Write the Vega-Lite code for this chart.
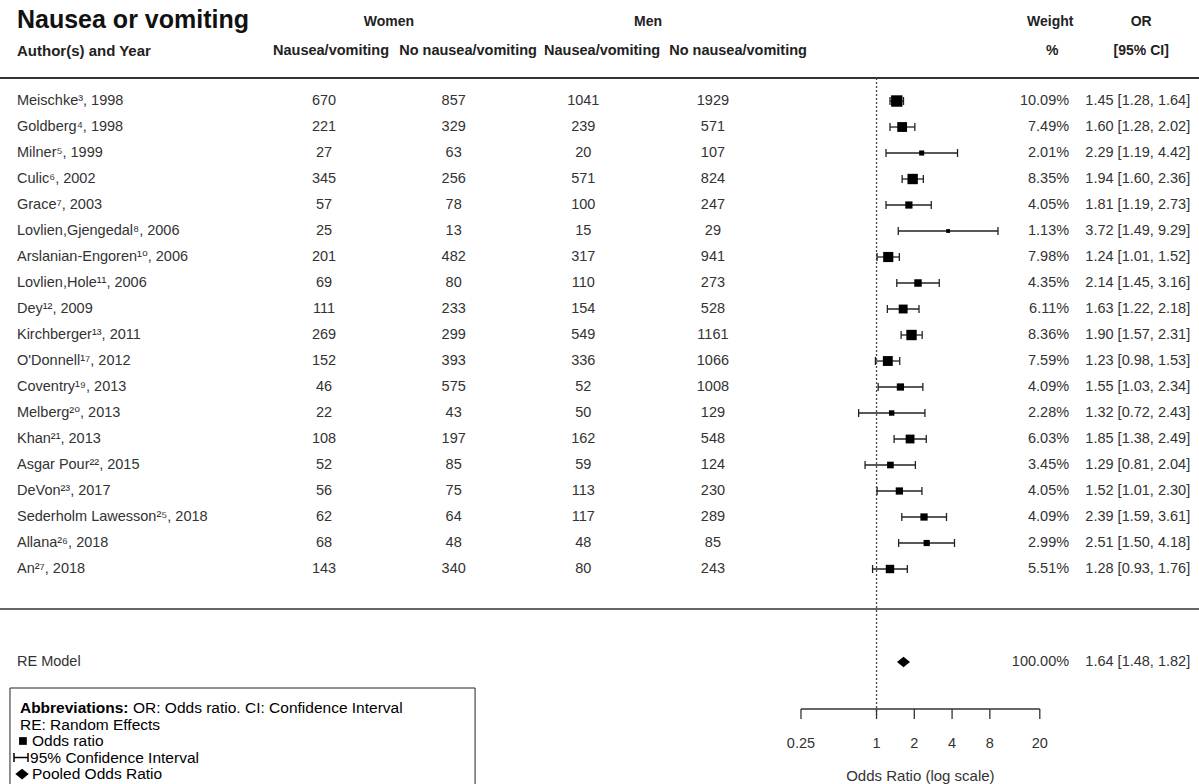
{
  "$schema": "https://vega.github.io/schema/vega-lite/v6.json",
  "width": 1199,
  "height": 784,
  "autosize": {"type": "none"},
  "padding": 0,
  "background": "white",
  "config": {"view": {"stroke": null}, "axis": {"disable": true}, "legend": {"disable": true}},
  "datasets": {
    "one": [{}],
    "studies": [
      {"row": 1, "author": "Meischke³, 1998", "a": 670, "b": 857, "c": 1041, "d": 1929, "w": 10.09, "wt": "10.09%", "or": 1.45, "lo": 1.28, "hi": 1.64, "ci": "1.45 [1.28, 1.64]"},
      {"row": 2, "author": "Goldberg⁴, 1998", "a": 221, "b": 329, "c": 239, "d": 571, "w": 7.49, "wt": "7.49%", "or": 1.60, "lo": 1.28, "hi": 2.02, "ci": "1.60 [1.28, 2.02]"},
      {"row": 3, "author": "Milner⁵, 1999", "a": 27, "b": 63, "c": 20, "d": 107, "w": 2.01, "wt": "2.01%", "or": 2.29, "lo": 1.19, "hi": 4.42, "ci": "2.29 [1.19, 4.42]"},
      {"row": 4, "author": "Culic⁶, 2002", "a": 345, "b": 256, "c": 571, "d": 824, "w": 8.35, "wt": "8.35%", "or": 1.94, "lo": 1.60, "hi": 2.36, "ci": "1.94 [1.60, 2.36]"},
      {"row": 5, "author": "Grace⁷, 2003", "a": 57, "b": 78, "c": 100, "d": 247, "w": 4.05, "wt": "4.05%", "or": 1.81, "lo": 1.19, "hi": 2.73, "ci": "1.81 [1.19, 2.73]"},
      {"row": 6, "author": "Lovlien,Gjengedal⁸, 2006", "a": 25, "b": 13, "c": 15, "d": 29, "w": 1.13, "wt": "1.13%", "or": 3.72, "lo": 1.49, "hi": 9.29, "ci": "3.72 [1.49, 9.29]"},
      {"row": 7, "author": "Arslanian-Engoren¹⁰, 2006", "a": 201, "b": 482, "c": 317, "d": 941, "w": 7.98, "wt": "7.98%", "or": 1.24, "lo": 1.01, "hi": 1.52, "ci": "1.24 [1.01, 1.52]"},
      {"row": 8, "author": "Lovlien,Hole¹¹, 2006", "a": 69, "b": 80, "c": 110, "d": 273, "w": 4.35, "wt": "4.35%", "or": 2.14, "lo": 1.45, "hi": 3.16, "ci": "2.14 [1.45, 3.16]"},
      {"row": 9, "author": "Dey¹², 2009", "a": 111, "b": 233, "c": 154, "d": 528, "w": 6.11, "wt": "6.11%", "or": 1.63, "lo": 1.22, "hi": 2.18, "ci": "1.63 [1.22, 2.18]"},
      {"row": 10, "author": "Kirchberger¹³, 2011", "a": 269, "b": 299, "c": 549, "d": 1161, "w": 8.36, "wt": "8.36%", "or": 1.90, "lo": 1.57, "hi": 2.31, "ci": "1.90 [1.57, 2.31]"},
      {"row": 11, "author": "O'Donnell¹⁷, 2012", "a": 152, "b": 393, "c": 336, "d": 1066, "w": 7.59, "wt": "7.59%", "or": 1.23, "lo": 0.98, "hi": 1.53, "ci": "1.23 [0.98, 1.53]"},
      {"row": 12, "author": "Coventry¹⁹, 2013", "a": 46, "b": 575, "c": 52, "d": 1008, "w": 4.09, "wt": "4.09%", "or": 1.55, "lo": 1.03, "hi": 2.34, "ci": "1.55 [1.03, 2.34]"},
      {"row": 13, "author": "Melberg²⁰, 2013", "a": 22, "b": 43, "c": 50, "d": 129, "w": 2.28, "wt": "2.28%", "or": 1.32, "lo": 0.72, "hi": 2.43, "ci": "1.32 [0.72, 2.43]"},
      {"row": 14, "author": "Khan²¹, 2013", "a": 108, "b": 197, "c": 162, "d": 548, "w": 6.03, "wt": "6.03%", "or": 1.85, "lo": 1.38, "hi": 2.49, "ci": "1.85 [1.38, 2.49]"},
      {"row": 15, "author": "Asgar Pour²², 2015", "a": 52, "b": 85, "c": 59, "d": 124, "w": 3.45, "wt": "3.45%", "or": 1.29, "lo": 0.81, "hi": 2.04, "ci": "1.29 [0.81, 2.04]"},
      {"row": 16, "author": "DeVon²³, 2017", "a": 56, "b": 75, "c": 113, "d": 230, "w": 4.05, "wt": "4.05%", "or": 1.52, "lo": 1.01, "hi": 2.30, "ci": "1.52 [1.01, 2.30]"},
      {"row": 17, "author": "Sederholm Lawesson²⁵, 2018", "a": 62, "b": 64, "c": 117, "d": 289, "w": 4.09, "wt": "4.09%", "or": 2.39, "lo": 1.59, "hi": 3.61, "ci": "2.39 [1.59, 3.61]"},
      {"row": 18, "author": "Allana²⁶, 2018", "a": 68, "b": 48, "c": 48, "d": 85, "w": 2.99, "wt": "2.99%", "or": 2.51, "lo": 1.50, "hi": 4.18, "ci": "2.51 [1.50, 4.18]"},
      {"row": 19, "author": "An²⁷, 2018", "a": 143, "b": 340, "c": 80, "d": 243, "w": 5.51, "wt": "5.51%", "or": 1.28, "lo": 0.93, "hi": 1.76, "ci": "1.28 [0.93, 1.76]"}
    ],
    "pooled": [
      {"label": "RE Model", "wt": "100.00%", "or": 1.64, "lo": 1.48, "hi": 1.82, "ci": "1.64 [1.48, 1.82]"}
    ],
    "ticks": [
      {"v": 0.25, "label": "0.25"},
      {"v": 1, "label": "1"},
      {"v": 2, "label": "2"},
      {"v": 4, "label": "4"},
      {"v": 8, "label": "8"},
      {"v": 20, "label": "20"}
    ]
  },
  "data": {"name": "one"},
  "resolve": {"scale": {"x": "independent"}},
  "layer": [
    {
      "layer": [
        {"mark": {"type": "text", "text": "Nausea or vomiting", "align": "left", "baseline": "middle", "fontSize": 25, "fontWeight": "bold", "font": "Liberation Sans", "color": "#111"},
         "encoding": {"x": {"datum": -1.369, "type": "quantitative", "scale": {"domain": [-1.5, 7.75], "nice": false, "zero": false}}, "y": {"datum": -2.115, "type": "quantitative", "scale": {"domain": [-2.885, 27.269], "reverse": true, "nice": false, "zero": false}}}},
        {"mark": {"type": "text", "text": "Women", "align": "center", "baseline": "middle", "fontSize": 14, "fontWeight": "bold", "font": "Liberation Sans", "color": "#222"},
         "encoding": {"x": {"datum": 1.5, "type": "quantitative"}, "y": {"datum": -2.038, "type": "quantitative"}}},
        {"mark": {"type": "text", "text": "Men", "align": "center", "baseline": "middle", "fontSize": 14, "fontWeight": "bold", "font": "Liberation Sans", "color": "#222"},
         "encoding": {"x": {"datum": 3.5, "type": "quantitative"}, "y": {"datum": -2.038, "type": "quantitative"}}},
        {"mark": {"type": "text", "text": "Weight", "align": "center", "baseline": "middle", "fontSize": 14, "fontWeight": "bold", "font": "Liberation Sans", "color": "#222"},
         "encoding": {"x": {"datum": 6.602, "type": "quantitative"}, "y": {"datum": -2.038, "type": "quantitative"}}},
        {"mark": {"type": "text", "text": "OR", "align": "center", "baseline": "middle", "fontSize": 14, "fontWeight": "bold", "font": "Liberation Sans", "color": "#222"},
         "encoding": {"x": {"datum": 7.304, "type": "quantitative"}, "y": {"datum": -2.038, "type": "quantitative"}}},
        {"mark": {"type": "text", "text": "Author(s) and Year", "align": "left", "baseline": "middle", "fontSize": 15, "fontWeight": "bold", "font": "Liberation Sans", "color": "#222"},
         "encoding": {"x": {"datum": -1.369, "type": "quantitative"}, "y": {"datum": -0.923, "type": "quantitative"}}},
        {"mark": {"type": "text", "text": "Nausea/vomiting", "align": "center", "baseline": "middle", "fontSize": 14.5, "fontWeight": "bold", "font": "Liberation Sans", "color": "#222"},
         "encoding": {"x": {"datum": 1.054, "type": "quantitative"}, "y": {"datum": -0.923, "type": "quantitative"}}},
        {"mark": {"type": "text", "text": "No nausea/vomiting", "align": "center", "baseline": "middle", "fontSize": 14.5, "fontWeight": "bold", "font": "Liberation Sans", "color": "#222"},
         "encoding": {"x": {"datum": 2.111, "type": "quantitative"}, "y": {"datum": -0.923, "type": "quantitative"}}},
        {"mark": {"type": "text", "text": "Nausea/vomiting", "align": "center", "baseline": "middle", "fontSize": 14.5, "fontWeight": "bold", "font": "Liberation Sans", "color": "#222"},
         "encoding": {"x": {"datum": 3.145, "type": "quantitative"}, "y": {"datum": -0.923, "type": "quantitative"}}},
        {"mark": {"type": "text", "text": "No nausea/vomiting", "align": "center", "baseline": "middle", "fontSize": 14.5, "fontWeight": "bold", "font": "Liberation Sans", "color": "#222"},
         "encoding": {"x": {"datum": 4.194, "type": "quantitative"}, "y": {"datum": -0.923, "type": "quantitative"}}},
        {"mark": {"type": "text", "text": "%", "align": "center", "baseline": "middle", "fontSize": 14, "fontWeight": "bold", "font": "Liberation Sans", "color": "#222"},
         "encoding": {"x": {"datum": 6.617, "type": "quantitative"}, "y": {"datum": -0.923, "type": "quantitative"}}},
        {"mark": {"type": "text", "text": "[95% CI]", "align": "center", "baseline": "middle", "fontSize": 14, "fontWeight": "bold", "font": "Liberation Sans", "color": "#222"},
         "encoding": {"x": {"datum": 7.304, "type": "quantitative"}, "y": {"datum": -0.923, "type": "quantitative"}}},
        {"mark": {"type": "rule", "color": "#333", "strokeWidth": 2},
         "encoding": {"x": {"datum": -1.5, "type": "quantitative"}, "x2": {"datum": 7.75}, "y": {"datum": 0.115, "type": "quantitative"}}},
        {"mark": {"type": "rule", "color": "#333", "strokeWidth": 1.5},
         "encoding": {"x": {"datum": -1.5, "type": "quantitative"}, "x2": {"datum": 7.75}, "y": {"datum": 20.538, "type": "quantitative"}}},
        {"data": {"name": "studies"},
         "mark": {"type": "text", "align": "left", "baseline": "middle", "fontSize": 14.5, "font": "Liberation Sans, DejaVu Sans", "color": "#333"},
         "encoding": {"x": {"datum": -1.369, "type": "quantitative"}, "y": {"field": "row", "type": "quantitative"}, "text": {"field": "author", "type": "nominal"}}},
        {"data": {"name": "studies"},
         "mark": {"type": "text", "align": "center", "baseline": "middle", "fontSize": 14.5, "font": "Liberation Sans", "color": "#333"},
         "encoding": {"x": {"datum": 1, "type": "quantitative"}, "y": {"field": "row", "type": "quantitative"}, "text": {"field": "a", "type": "nominal"}}},
        {"data": {"name": "studies"},
         "mark": {"type": "text", "align": "center", "baseline": "middle", "fontSize": 14.5, "font": "Liberation Sans", "color": "#333"},
         "encoding": {"x": {"datum": 2, "type": "quantitative"}, "y": {"field": "row", "type": "quantitative"}, "text": {"field": "b", "type": "nominal"}}},
        {"data": {"name": "studies"},
         "mark": {"type": "text", "align": "center", "baseline": "middle", "fontSize": 14.5, "font": "Liberation Sans", "color": "#333"},
         "encoding": {"x": {"datum": 3, "type": "quantitative"}, "y": {"field": "row", "type": "quantitative"}, "text": {"field": "c", "type": "nominal"}}},
        {"data": {"name": "studies"},
         "mark": {"type": "text", "align": "center", "baseline": "middle", "fontSize": 14.5, "font": "Liberation Sans", "color": "#333"},
         "encoding": {"x": {"datum": 4, "type": "quantitative"}, "y": {"field": "row", "type": "quantitative"}, "text": {"field": "d", "type": "nominal"}}},
        {"data": {"name": "studies"},
         "mark": {"type": "text", "align": "right", "baseline": "middle", "fontSize": 14.5, "font": "Liberation Sans", "color": "#333"},
         "encoding": {"x": {"datum": 6.748, "type": "quantitative"}, "y": {"field": "row", "type": "quantitative"}, "text": {"field": "wt", "type": "nominal"}}},
        {"data": {"name": "studies"},
         "mark": {"type": "text", "align": "right", "baseline": "middle", "fontSize": 14.5, "font": "Liberation Sans", "color": "#333"},
         "encoding": {"x": {"datum": 7.682, "type": "quantitative"}, "y": {"field": "row", "type": "quantitative"}, "text": {"field": "ci", "type": "nominal"}}},
        {"data": {"name": "pooled"},
         "mark": {"type": "text", "align": "left", "baseline": "middle", "fontSize": 14.5, "font": "Liberation Sans", "color": "#333"},
         "encoding": {"x": {"datum": -1.369, "type": "quantitative"}, "y": {"datum": 22.577, "type": "quantitative"}, "text": {"field": "label", "type": "nominal"}}},
        {"data": {"name": "pooled"},
         "mark": {"type": "text", "align": "right", "baseline": "middle", "fontSize": 14.5, "font": "Liberation Sans", "color": "#333"},
         "encoding": {"x": {"datum": 6.748, "type": "quantitative"}, "y": {"datum": 22.577, "type": "quantitative"}, "text": {"field": "wt", "type": "nominal"}}},
        {"data": {"name": "pooled"},
         "mark": {"type": "text", "align": "right", "baseline": "middle", "fontSize": 14.5, "font": "Liberation Sans", "color": "#333"},
         "encoding": {"x": {"datum": 7.682, "type": "quantitative"}, "y": {"datum": 22.577, "type": "quantitative"}, "text": {"field": "ci", "type": "nominal"}}},
        {"mark": {"type": "rect", "fill": "white", "stroke": "#222", "strokeWidth": 1},
         "encoding": {"x": {"datum": -1.423, "type": "quantitative"}, "x2": {"datum": 2.165}, "y": {"datum": 23.577, "type": "quantitative"}, "y2": {"datum": 28}}},
        {"mark": {"type": "text", "text": "Abbreviations:", "align": "left", "baseline": "middle", "fontSize": 15.5, "fontWeight": "bold", "font": "Liberation Sans", "color": "#000"},
         "encoding": {"x": {"datum": -1.346, "type": "quantitative"}, "y": {"datum": 24.346, "type": "quantitative"}}},
        {"mark": {"type": "text", "text": "OR: Odds ratio. CI: Confidence Interval", "align": "left", "baseline": "middle", "fontSize": 15.5, "font": "Liberation Sans", "color": "#000"},
         "encoding": {"x": {"datum": -0.474, "type": "quantitative"}, "y": {"datum": 24.346, "type": "quantitative"}}},
        {"mark": {"type": "text", "text": "RE: Random Effects", "align": "left", "baseline": "middle", "fontSize": 15.5, "font": "Liberation Sans", "color": "#000"},
         "encoding": {"x": {"datum": -1.346, "type": "quantitative"}, "y": {"datum": 24.981, "type": "quantitative"}}},
        {"mark": {"type": "point", "shape": "square", "filled": true, "size": 60, "color": "#000", "opacity": 1},
         "encoding": {"x": {"datum": -1.323, "type": "quantitative"}, "y": {"datum": 25.615, "type": "quantitative"}}},
        {"mark": {"type": "text", "text": "Odds ratio", "align": "left", "baseline": "middle", "fontSize": 15.5, "font": "Liberation Sans", "color": "#000"},
         "encoding": {"x": {"datum": -1.253, "type": "quantitative"}, "y": {"datum": 25.615, "type": "quantitative"}}},
        {"mark": {"type": "rule", "color": "#000", "strokeWidth": 1.5},
         "encoding": {"x": {"datum": -1.392, "type": "quantitative"}, "x2": {"datum": -1.284}, "y": {"datum": 26.25, "type": "quantitative"}}},
        {"mark": {"type": "tick", "orient": "vertical", "color": "#000", "size": 9, "thickness": 1.5, "opacity": 1},
         "encoding": {"x": {"datum": -1.392, "type": "quantitative"}, "y": {"datum": 26.25, "type": "quantitative"}}},
        {"mark": {"type": "tick", "orient": "vertical", "color": "#000", "size": 9, "thickness": 1.5, "opacity": 1},
         "encoding": {"x": {"datum": -1.284, "type": "quantitative"}, "y": {"datum": 26.25, "type": "quantitative"}}},
        {"mark": {"type": "text", "text": "95% Confidence Interval", "align": "left", "baseline": "middle", "fontSize": 15.5, "font": "Liberation Sans", "color": "#000"},
         "encoding": {"x": {"datum": -1.268, "type": "quantitative"}, "y": {"datum": 26.25, "type": "quantitative"}}},
        {"mark": {"type": "point", "shape": "M-1,0L0,-0.8L1,0L0,0.8Z", "filled": true, "size": 180, "color": "#000", "opacity": 1},
         "encoding": {"x": {"datum": -1.33, "type": "quantitative"}, "y": {"datum": 26.885, "type": "quantitative"}}},
        {"mark": {"type": "text", "text": "Pooled Odds Ratio", "align": "left", "baseline": "middle", "fontSize": 15.5, "font": "Liberation Sans", "color": "#000"},
         "encoding": {"x": {"datum": -1.253, "type": "quantitative"}, "y": {"datum": 26.885, "type": "quantitative"}}}
      ]
    },
    {
      "layer": [
        {"mark": {"type": "rule", "color": "#444", "strokeWidth": 1.3, "strokeDash": [2, 2]},
         "encoding": {"x": {"datum": 1, "type": "quantitative", "scale": {"type": "log", "domain": [1.035e-7, 371.3], "nice": false}}, "y": {"datum": 0.115, "type": "quantitative"}, "y2": {"datum": 24.615}}},
        {"data": {"name": "studies"},
         "mark": {"type": "rule", "color": "#222", "strokeWidth": 1.3},
         "encoding": {"x": {"field": "lo", "type": "quantitative"}, "x2": {"field": "hi"}, "y": {"field": "row", "type": "quantitative"}}},
        {"data": {"name": "studies"},
         "mark": {"type": "tick", "orient": "vertical", "color": "#222", "size": 8, "thickness": 1.3, "opacity": 1},
         "encoding": {"x": {"field": "lo", "type": "quantitative"}, "y": {"field": "row", "type": "quantitative"}}},
        {"data": {"name": "studies"},
         "mark": {"type": "tick", "orient": "vertical", "color": "#222", "size": 8, "thickness": 1.3, "opacity": 1},
         "encoding": {"x": {"field": "hi", "type": "quantitative"}, "y": {"field": "row", "type": "quantitative"}}},
        {"data": {"name": "studies"},
         "mark": {"type": "point", "shape": "square", "filled": true, "color": "#000", "opacity": 1},
         "encoding": {"x": {"field": "or", "type": "quantitative"}, "y": {"field": "row", "type": "quantitative"}, "size": {"field": "w", "type": "quantitative", "scale": {"domain": [0, 10.09], "range": [0, 130]}, "legend": null}}},
        {"data": {"name": "pooled"},
         "mark": {"type": "point", "shape": "M-1,0L0,-0.8L1,0L0,0.8Z", "filled": true, "size": 169, "color": "#000", "opacity": 1},
         "encoding": {"x": {"field": "or", "type": "quantitative"}, "y": {"datum": 22.577, "type": "quantitative"}}},
        {"mark": {"type": "rule", "color": "#333", "strokeWidth": 1.3},
         "encoding": {"x": {"datum": 0.25, "type": "quantitative"}, "x2": {"datum": 20}, "y": {"datum": 24.385, "type": "quantitative"}}},
        {"data": {"name": "ticks"},
         "mark": {"type": "rule", "color": "#333", "strokeWidth": 1.3},
         "encoding": {"x": {"field": "v", "type": "quantitative"}, "y": {"datum": 24.385, "type": "quantitative"}, "y2": {"datum": 24.769}}},
        {"data": {"name": "ticks"},
         "mark": {"type": "text", "align": "center", "baseline": "middle", "fontSize": 14.5, "font": "Liberation Sans", "color": "#333"},
         "encoding": {"x": {"field": "v", "type": "quantitative"}, "y": {"datum": 25.731, "type": "quantitative"}, "text": {"field": "label", "type": "nominal"}}},
        {"mark": {"type": "text", "text": "Odds Ratio (log scale)", "align": "center", "baseline": "middle", "fontSize": 15, "font": "Liberation Sans", "color": "#333"},
         "encoding": {"x": {"datum": 2.236, "type": "quantitative"}, "y": {"datum": 26.962, "type": "quantitative"}}}
      ]
    }
  ]
}
